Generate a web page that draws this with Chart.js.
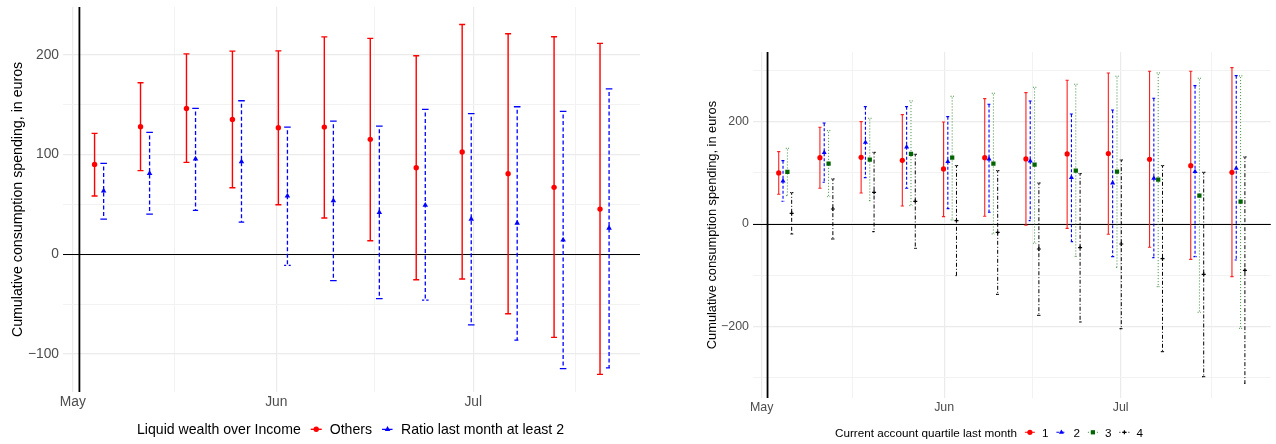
<!DOCTYPE html>
<html>
<head>
<meta charset="utf-8">
<script src="https://cdn.jsdelivr.net/npm/chart.js@4.4.1/dist/chart.umd.min.js"></script>
<style>
  body { margin: 0; background: #fff; }
  #c1 { position: absolute; left: 0; top: 0; }
  #c2 { position: absolute; left: 650px; top: 0; }
</style>
</head>
<body>
<canvas id="c1" width="650" height="444"></canvas>
<canvas id="c2" width="626" height="444"></canvas>
<script>
// weekly dates (x categories)
const dates = ['2020-05-05','2020-05-12','2020-05-19','2020-05-26','2020-06-02','2020-06-09',
               '2020-06-16','2020-06-23','2020-06-30','2020-07-07','2020-07-14','2020-07-21'];
const monthStarts = ['2020-05-01','2020-06-01','2020-07-01','2020-08-01'];
const monthLabels = ['May','Jun','Jul'];
const vlineDate = '2020-05-02';

// left panel: liquid wealth over income
const othersMid = [90.2,128,146.3,135.3,127,127.6,115.3,86.9,102.6,80.9,67.2,45.4];
const othersLo  = [58.5,83.9,92.2,66.8,49.8,36.4,13.7,-25.4,-24.7,-59.5,-83.2,-120.3];
const othersHi  = [121.3,172,201,203.8,204,218,216.5,199.1,230.5,221.2,218.2,211.5];
const ratioMid  = [63.5,81.2,95.6,92.9,58.5,53.8,42.1,49.4,35.4,31.4,14.4,26.4];
const ratioLo   = [35.4,40.4,44.1,32.4,-11,-26.4,-44.4,-45.8,-70.8,-85.9,-114.6,-113.9];
const ratioHi   = [91.2,122.3,146.3,154,127.6,133.6,128.6,145.3,141,148,143.3,166];

// right panel: current account quartile
const q1Mid = [99.7,129.6,130.3,124.4,107.5,129.6,127,136.8,137.5,126.4,114,101];
const q1Lo  = [58,69.7,60.6,35.2,14.3,15,-2.6,-8.5,-20.2,-45.6,-69.1,-102.9];
const q1Hi  = [141.4,189,200,213.7,199.3,245,256.7,280.8,295.1,298.4,298.4,305.5];
const q2Mid = [84,139.4,159.6,150.5,121.8,127,123.1,90.6,80.1,89.3,102.3,108.8];
const q2Lo  = [44.3,81.4,90.6,69.7,30,22.8,6.5,-34.5,-63.8,-65.8,-63.8,-70.4];
const q2Hi  = [123.8,197.4,229.3,229.3,209.8,233.9,240.4,215,222.8,245.6,270.4,289.9];
const q3Mid = [101.6,117.9,125.7,136.8,129.6,117.9,116,104.2,102.3,86.6,55.4,43.6];
const q3Lo  = [55.4,53.4,45.6,35.8,7.8,-19.5,-37.8,-63.2,-84.7,-122.5,-172.6,-203.9];
const q3Hi  = [147.9,182.4,206.5,240.4,249.5,255.4,267.1,273,288.6,295.1,284.7,289.3];
const q4Mid = [20.8,29.3,61.9,44.3,6.5,-16.3,-48.9,-46.3,-39.1,-67.8,-98.4,-90.6];
const q4Lo  = [-19.5,-29.3,-15,-47.6,-101,-137.5,-178.5,-191.5,-204.6,-249.5,-298.4,-311.4];
const q4Hi  = [61.2,88,140,136.2,114,104.2,80.1,98.4,125.1,114,101,131];

// y tick labels
const leftYMajor = [-100, 0, 100, 200];
const leftYMinor = [-50, 50, 150];
const rightYMajor = [-200, 0, 200];
const rightYMinor = [-300, -100, 100, 300];

const FONT = "'Liberation Sans', Arial, Helvetica, sans-serif";
Chart.defaults.font.family = FONT;

function dayOf(s) {
  const [y, m, d] = s.split('-').map(Number);
  return (Date.UTC(y, m - 1, d) - Date.UTC(2020, 4, 1)) / 864e5;
}
const xEdges = monthStarts.map(dayOf);
const xMajor = xEdges.slice(0, -1);
const xMinor = xMajor.map((v, i) => (v + xEdges[i + 1]) / 2);
const near = (arr, v) => arr.findIndex(m => Math.abs(m - v) < 1e-6);
const fmt = v => v < 0 ? '\u2212' + Math.abs(v) : String(v);

// error bars + reference lines, drawn under the points
const errorBars = {
  id: 'errorBars',
  beforeDatasetsDraw(chart, args, o) {
    const { ctx, chartArea: a, scales: { x, y } } = chart;
    ctx.save();
    ctx.strokeStyle = '#000';
    ctx.lineWidth = o.hWidth;
    const py = Math.round(y.getPixelForValue(0)) + 0.5;
    ctx.beginPath(); ctx.moveTo(a.left, py); ctx.lineTo(a.right, py); ctx.stroke();
    ctx.lineWidth = o.vWidth;
    const px = x.getPixelForValue(dayOf(vlineDate));
    ctx.beginPath(); ctx.moveTo(px, a.top); ctx.lineTo(px, a.bottom); ctx.stroke();

    chart.data.datasets.forEach(ds => {
      ctx.strokeStyle = ds.errColor;
      ctx.lineWidth = ds.errWidth;
      ctx.setLineDash(ds.errDash);
      ctx.lineCap = 'butt';
      ds.data.forEach((p, i) => {
        const cx = x.getPixelForValue(p.x);
        const lo = y.getPixelForValue(ds.errLo[i]);
        const hi = y.getPixelForValue(ds.errHi[i]);
        ctx.beginPath();
        ctx.moveTo(cx - ds.cap, hi); ctx.lineTo(cx + ds.cap, hi);
        ctx.lineTo(cx, hi); ctx.lineTo(cx, lo);
        ctx.lineTo(cx - ds.cap, lo); ctx.lineTo(cx + ds.cap, lo);
        ctx.stroke();
      });
    });
    ctx.restore();
  }
};

// ggplot-like inline legend at the bottom
const ggLegend = {
  id: 'ggLegend',
  afterDraw(chart, args, o) {
    const ctx = chart.ctx;
    ctx.save();
    ctx.font = o.size + 'px ' + FONT;
    ctx.textBaseline = 'alphabetic';
    ctx.fillStyle = '#000';
    let x = o.x;
    ctx.fillText(o.title, x, o.baseline);
    x += ctx.measureText(o.title).width;
    chart.data.datasets.forEach(ds => {
      x += o.gap1;
      ctx.strokeStyle = ds.errColor;
      ctx.lineWidth = ds.errWidth;
      ctx.setLineDash(ds.errDash);
      ctx.beginPath(); ctx.moveTo(x, o.markerY); ctx.lineTo(x + o.markerW, o.markerY); ctx.stroke();
      ctx.setLineDash([]);
      ctx.fillStyle = ds.backgroundColor;
      ctx.strokeStyle = ds.borderColor;
      ctx.lineWidth = ds.borderWidth;
      Chart.helpers.drawPoint(ctx, { pointStyle: ds.pointStyle, radius: ds.pointRadius,
        borderWidth: ds.borderWidth, rotation: 0 }, x + o.markerW / 2, o.markerY);
      x += o.markerW + o.gap2;
      ctx.fillStyle = '#000';
      ctx.fillText(ds.label, x, o.baseline);
      x += ctx.measureText(ds.label).width;
    });
    ctx.restore();
  }
};

function series(label, mid, lo, hi, dx, st) {
  return Object.assign({
    label: label,
    data: dates.map((d, i) => ({ x: dayOf(d) + dx, y: mid[i] })),
    errLo: lo, errHi: hi
  }, st);
}

function makeChart(id, o) {
  const yTicks = o.yMajor.concat(o.yMinor).sort((a, b) => a - b);
  const xTicks = xMajor.concat(xMinor).sort((a, b) => a - b);
  return new Chart(id, {
    type: 'scatter',
    data: { datasets: o.datasets },
    options: {
      responsive: false,
      devicePixelRatio: 1,
      animation: false,
      events: [],
      layout: { padding: { left: 0, top: o.top, right: o.right, bottom: 0 } },
      plugins: {
        legend: { display: false },
        tooltip: { enabled: false },
        errorBars: { hWidth: o.hWidth, vWidth: o.vWidth },
        ggLegend: o.legend
      },
      scales: {
        x: {
          type: 'linear', min: o.xMin, max: o.xMax, bounds: 'data',
          afterBuildTicks: s => { s.ticks = xTicks.map(v => ({ value: v })); },
          afterFit: s => { s.height = o.xHeight; s.paddingLeft = 0; s.paddingRight = 0; },
          border: { display: false },
          grid: {
            drawTicks: false,
            color: c => near(xMajor, c.tick.value) >= 0 ? '#EBEBEB' : '#F2F2F2',
            lineWidth: c => near(xMajor, c.tick.value) >= 0 ? 1.2 : 1
          },
          ticks: {
            autoSkip: false, maxRotation: 0, padding: o.xPad, color: '#4D4D4D',
            font: { size: o.tickSize },
            callback: v => { const i = near(xMajor, v); return i < 0 ? '' : monthLabels[i]; }
          }
        },
        y: {
          min: o.yMin, max: o.yMax, bounds: 'data',
          afterBuildTicks: s => { s.ticks = yTicks.map(v => ({ value: v })); },
          afterFit: s => { s.width = o.yWidth; s.paddingTop = 0; s.paddingBottom = 0; },
          border: { display: false },
          grid: {
            drawTicks: false,
            color: c => near(o.yMajor, c.tick.value) >= 0 ? '#EBEBEB' : '#F2F2F2',
            lineWidth: c => near(o.yMajor, c.tick.value) >= 0 ? 1.2 : 1
          },
          ticks: {
            autoSkip: false, padding: 4, color: '#4D4D4D', font: { size: o.tickSize },
            callback: v => near(o.yMajor, v) >= 0 ? fmt(v) : ''
          },
          title: {
            display: true, text: 'Cumulative consumption spending, in euros', color: '#000',
            font: { size: o.titleSize }, padding: { top: o.titlePad, bottom: 0 }
          }
        }
      }
    },
    plugins: [errorBars, ggLegend]
  });
}

// left panel
makeChart('c1', {
  top: 7, right: 10, yWidth: 63, xHeight: 52, xPad: 1.5,
  xMin: -1.5, xMax: 86.4, yMin: -138, yMax: 248,
  yMajor: leftYMajor, yMinor: leftYMinor,
  tickSize: 13.8, titleSize: 14.2, titlePad: 9.5, hWidth: 1.2, vWidth: 1.8,
  legend: { title: 'Liquid wealth over Income', x: 137, baseline: 433.5, markerY: 429.3,
            size: 14.1, gap1: 10, markerW: 11, gap2: 8 },
  datasets: [
    series('Others', othersMid, othersLo, othersHi, -0.69, {
      pointStyle: 'circle', pointRadius: 2.7, backgroundColor: '#FF0000', borderColor: '#FF0000',
      borderWidth: 0, errColor: '#FF0000', errWidth: 1.4, errDash: [], cap: 3 }),
    series('Ratio last month at least 2', ratioMid, ratioLo, ratioHi, 0.69, {
      pointStyle: 'triangle', pointRadius: 3.2, backgroundColor: '#0000FF', borderColor: '#0000FF',
      borderWidth: 0, errColor: '#0000FF', errWidth: 1.3, errDash: [4, 2.5], cap: 3.3 })
  ]
});

// right panel
makeChart('c2', {
  top: 52, right: 3, yWidth: 103, xHeight: 46, xPad: 2.5,
  xMin: -1.47, xMax: 86.5, yMin: -340, yMax: 336,
  yMajor: rightYMajor, yMinor: rightYMinor,
  tickSize: 12.4, titleSize: 12.8, titlePad: 54.3, hWidth: 1.2, vWidth: 1.8,
  legend: { title: 'Current account quartile last month', x: 185, baseline: 437, markerY: 432.3,
            size: 11.7, gap1: 8, markerW: 10, gap2: 7 },
  datasets: [
    series('1', q1Mid, q1Lo, q1Hi, -1.1, {
      pointStyle: 'circle', pointRadius: 2.6, backgroundColor: '#FF0000', borderColor: '#FF0000',
      borderWidth: 0, errColor: '#FF2020', errWidth: 1.1, errDash: [], cap: 1.6 }),
    series('2', q2Mid, q2Lo, q2Hi, -0.37, {
      pointStyle: 'triangle', pointRadius: 2.9, backgroundColor: '#0000FF', borderColor: '#0000FF',
      borderWidth: 0, errColor: '#0000FF', errWidth: 1.1, errDash: [3, 2], cap: 1.6 }),
    series('3', q3Mid, q3Lo, q3Hi, 0.37, {
      pointStyle: 'rect', pointRadius: 3, backgroundColor: '#006400', borderColor: '#006400',
      borderWidth: 0, errColor: '#3A8A3A', errWidth: 1, errDash: [1, 2], cap: 1.6 }),
    series('4', q4Mid, q4Lo, q4Hi, 1.1, {
      pointStyle: 'cross', pointRadius: 2, backgroundColor: '#000000', borderColor: '#000000',
      borderWidth: 1.2, errColor: '#000000', errWidth: 1, errDash: [1, 2, 4, 2], cap: 1.6 })
  ]
});
</script>
</body>
</html>
